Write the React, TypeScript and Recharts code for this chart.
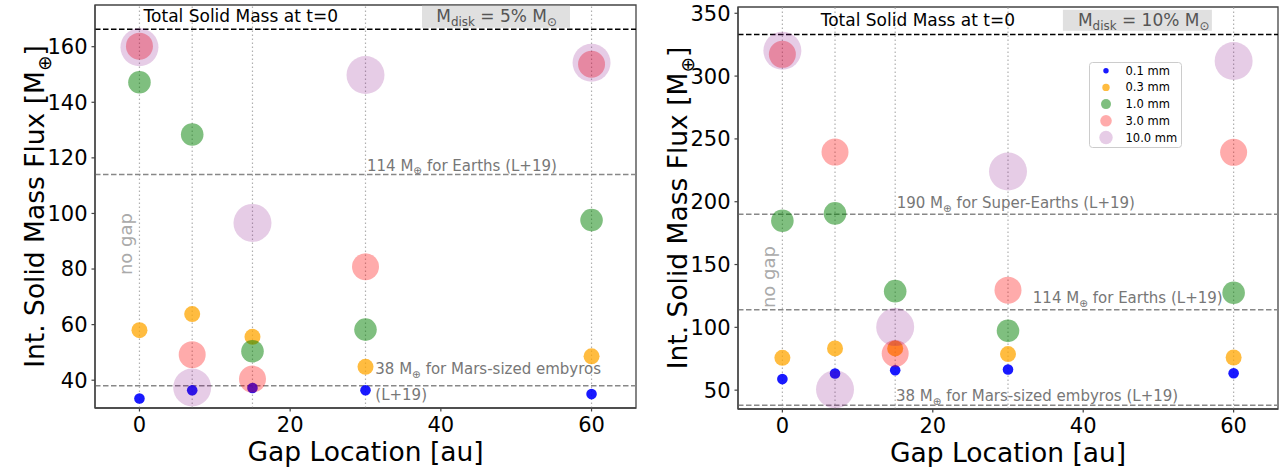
import React from "react";
import { ScatterChart, Scatter, XAxis, YAxis, ReferenceLine, ReferenceArea, Legend, Label } from "recharts";

const FONT = "DejaVu Sans, Verdana, sans-serif";

// gap locations (au) on the x axis
const gapLocations = [0, 7, 15, 30, 60];
const xTicks = [0, 20, 40, 60];
const sizeLabels = ["0.1 mm", "0.3 mm", "1.0 mm", "3.0 mm", "10.0 mm"];

// M_disk = 5% M_sun, integrated flux per grain size
const flux5_01 = [33.4, 36.4, 37.2, 36.4, 35.0];
const flux5_03 = [58.0, 63.8, 55.6, 44.8, 48.6];
const flux5_10 = [147.2, 128.4, 50.4, 58.2, 97.6];
const flux5_30 = [160.2, 49.2, 40.4, 80.8, 153.7];
const flux5_100 = [159.8, 37.4, 96.6, 149.8, 154.2];
const yTicks5 = [40, 60, 80, 100, 120, 140, 160];

// M_disk = 10% M_sun
const flux10_01 = [58.8, 63.3, 65.9, 66.5, 63.4];
const flux10_03 = [75.7, 83.2, 83.2, 78.7, 76.0];
const flux10_10 = [184.8, 190.7, 128.8, 97.2, 127.5];
const flux10_30 = [317.3, 239.5, 79.2, 129.6, 239.3];
const flux10_100 = [320.2, 50.6, 100.2, 224.1, 312.0];
const yTicks10 = [50, 100, 150, 200, 250, 300, 350];

// reference masses
const totalMass5 = 166.3;
const totalMass10 = 333.2;
const superEarths = 190;
const earths = 114;
const marsEmbryos = 38;

const XMIN = -5.9;
const XMAX = 65.9;
const LABEL_SIZE = 26.5;

// blue, orange, green, red, purple like matplotlib named colours
const STYLES = [
  { color: "#0000ff", opacity: 0.9, r: 5.3, lr: 2.7 },
  { color: "#ffa500", opacity: 0.75, r: 8, lr: 3.7 },
  { color: "#008000", opacity: 0.5, r: 11.3, lr: 5 },
  { color: "#ff0000", opacity: 0.33, r: 13.5, lr: 5.8 },
  { color: "#800080", opacity: 0.2, r: 19, lr: 6.7 },
];

type Seg = { t: string; sub?: boolean };

const renderSegs = (list: Seg[], size: number) => {
  let down = false;
  const shift = size * 0.25;
  return list.map((s, i) => {
    let dy: number | undefined;
    if (s.sub && !down) {
      dy = shift;
      down = true;
    } else if (!s.sub && down) {
      dy = -shift;
      down = false;
    }
    return (
      <tspan key={i} dy={dy} fontSize={s.sub ? size * 0.7 : size}>
        {s.t}
      </tspan>
    );
  });
};

interface Note {
  x: number;
  dy: number;
  size: number;
  color: string;
  segs: Seg[];
}
interface Box {
  x: number;
  dy: number;
  w: number;
  h: number;
  textX: number;
  textDy: number;
  segs: Seg[];
}
interface HLine {
  y: number;
  color: string;
  notes: Note[];
  box?: Box;
}

const xpx = (vb: any, d: number) => vb.x + ((d - XMIN) / (XMAX - XMIN)) * vb.width;

const hLabel = (line: HLine) => (props: any) => {
  const vb = props.viewBox;
  if (!vb) return null;
  return (
    <g>
      {line.box && (
        <rect x={xpx(vb, line.box.x)} y={vb.y + line.box.dy} width={line.box.w} height={line.box.h} fill="#e0e0e0" />
      )}
      {line.box && (
        <text x={xpx(vb, line.box.textX)} y={vb.y + line.box.textDy} fill="#555" fontFamily={FONT}>
          {renderSegs(line.box.segs, 17)}
        </text>
      )}
      {line.notes.map((n, i) => (
        <text key={i} x={xpx(vb, n.x)} y={vb.y + n.dy} fill={n.color} fontFamily={FONT}>
          {renderSegs(n.segs, n.size)}
        </text>
      ))}
    </g>
  );
};

const earthSub: Seg = { t: "\u2295", sub: true };

const lines5: HLine[] = [
  {
    y: totalMass5,
    color: "#000",
    notes: [{ x: 0.55, dy: -7, size: 17, color: "#000", segs: [{ t: "Total Solid Mass at t=0" }] }],
    box: {
      x: 37.5, dy: -23.4, w: 148, h: 22, textX: 39.4, textDy: -7,
      segs: [{ t: "M" }, { t: "disk", sub: true }, { t: " = 5% M" }, { t: "\u2299", sub: true }],
    },
  },
  {
    y: earths,
    color: "#888",
    notes: [{ x: 30.2, dy: -4, size: 15, color: "#777", segs: [{ t: "114 M" }, earthSub, { t: " for Earths (L+19)" }] }],
  },
  {
    y: marsEmbryos,
    color: "#888",
    notes: [
      { x: 31.3, dy: -11.6, size: 15, color: "#777", segs: [{ t: "38 M" }, earthSub, { t: " for Mars-sized embyros" }] },
      { x: 31.3, dy: 14.5, size: 15, color: "#777", segs: [{ t: "(L+19)" }] },
    ],
  },
];

const lines10: HLine[] = [
  {
    y: totalMass10,
    color: "#000",
    notes: [{ x: 5.1, dy: -8.6, size: 17, color: "#000", segs: [{ t: "Total Solid Mass at t=0" }] }],
    box: {
      x: 37.3, dy: -24.6, w: 149, h: 21, textX: 39.3, textDy: -8.6,
      segs: [{ t: "M" }, { t: "disk", sub: true }, { t: " = 10% M" }, { t: "\u2299", sub: true }],
    },
  },
  {
    y: superEarths,
    color: "#888",
    notes: [{ x: 15.2, dy: -6, size: 15, color: "#777", segs: [{ t: "190 M" }, earthSub, { t: " for Super-Earths (L+19)" }] }],
  },
  {
    y: earths,
    color: "#888",
    notes: [{ x: 33.3, dy: -6.6, size: 15, color: "#777", segs: [{ t: "114 M" }, earthSub, { t: " for Earths (L+19)" }] }],
  },
  {
    y: marsEmbryos,
    color: "#888",
    notes: [{ x: 15.1, dy: -4.3, size: 15, color: "#777", segs: [{ t: "38 M" }, earthSub, { t: " for Mars-sized embyros (L+19)" }] }],
  },
];

const LegendBox = () => (
  <svg width={93} height={86} style={{ display: "block" }}>
    <rect x={0.5} y={0.5} width={92} height={85} rx={3} fill="#fff" fillOpacity={0.8} stroke="#ccc" />
    {sizeLabels.map((lab, i) => {
      const cy = 8.7 + i * 16.7;
      return (
        <g key={lab}>
          <circle cx={17} cy={cy} r={STYLES[i].lr} fill={STYLES[i].color} fillOpacity={STYLES[i].opacity} />
          <text x={36.5} y={cy} dominantBaseline="central" fontSize={11.5} fontFamily={FONT} fill="#000">
            {lab}
          </text>
        </g>
      );
    })}
  </svg>
);

interface PanelProps {
  left: number;
  width: number;
  margin: { top: number; right: number; bottom: number; left: number };
  yAxisWidth: number;
  xAxisHeight: number;
  yDomain: [number, number];
  yTicks: number[];
  series: number[][];
  hlines: HLine[];
  noGapY: number;
  yLabelX: number;
  xLabelY: number;
  legend?: { left: number; top: number };
}

const Panel: React.FC<PanelProps> = (p) => {
  const data = p.series.map((vals) => gapLocations.map((g, i) => ({ x: g, y: vals[i] })));
  const axisColor = "#444";
  return (
    <div style={{ position: "absolute", left: p.left, top: 0 }}>
      <ScatterChart width={p.width} height={467} margin={p.margin}>
        <XAxis
          type="number"
          dataKey="x"
          domain={[XMIN, XMAX]}
          ticks={xTicks}
          allowDataOverflow
          height={p.xAxisHeight}
          stroke={axisColor}
          axisLine={{ stroke: axisColor, strokeWidth: 1.3 }}
          tickLine={{ stroke: axisColor, strokeWidth: 1.2 }}
          tickSize={3.5}
          tickMargin={6}
          tick={{ fontSize: 21, fill: "#000", fontFamily: FONT }}
        >
          <Label
            content={(lp: any) => {
              const vb = lp.viewBox;
              return (
                <text x={vb.x + vb.width / 2} y={p.xLabelY} textAnchor="middle" fontSize={LABEL_SIZE} fontFamily={FONT} fill="#000">
                  Gap Location [au]
                </text>
              );
            }}
          />
        </XAxis>
        <YAxis
          type="number"
          dataKey="y"
          domain={p.yDomain}
          ticks={p.yTicks}
          allowDataOverflow
          width={p.yAxisWidth}
          stroke={axisColor}
          axisLine={{ stroke: axisColor, strokeWidth: 1.3 }}
          tickLine={{ stroke: axisColor, strokeWidth: 1.2 }}
          tickSize={3.5}
          tickMargin={4}
          tick={{ fontSize: 21, fill: "#000", fontFamily: FONT }}
        >
          <Label
            content={(lp: any) => {
              const vb = lp.viewBox;
              const cy = vb.y + vb.height / 2;
              return (
                <text
                  transform={`translate(${p.yLabelX},${cy}) rotate(-90)`}
                  textAnchor="middle"
                  fontFamily={FONT}
                  fill="#000"
                >
                  {renderSegs([{ t: "Int. Solid Mass Flux [M" }, earthSub, { t: "]" }], LABEL_SIZE)}
                </text>
              );
            }}
          />
        </YAxis>
        <ReferenceArea
          x1={XMIN}
          x2={XMAX}
          y1={p.yDomain[0]}
          y2={p.yDomain[1]}
          fill="none"
          fillOpacity={0}
          stroke={axisColor}
          strokeWidth={1.3}
        />
        {gapLocations.map((g) => (
          <ReferenceLine
            key={"v" + g}
            x={g}
            stroke="#b0b0b0"
            strokeWidth={1.2}
            strokeDasharray="1.5 2.5"
            label={
              g === 0
                ? (lp: any) => {
                    const vb = lp.viewBox;
                    if (!vb) return null;
                    const cy = vb.y + ((p.yDomain[1] - p.noGapY) / (p.yDomain[1] - p.yDomain[0])) * vb.height;
                    const cx = vb.x - 14;
                    return (
                      <text
                        transform={`translate(${cx},${cy}) rotate(-90)`}
                        textAnchor="middle"
                        dominantBaseline="central"
                        fontSize={18}
                        fontFamily={FONT}
                        fill="#aaa"
                      >
                        no gap
                      </text>
                    );
                  }
                : undefined
            }
          />
        ))}
        {p.hlines.map((l) => (
          <ReferenceLine
            key={"h" + l.y}
            y={l.y}
            stroke={l.color}
            strokeWidth={1.5}
            strokeDasharray="5.5 2.5"
            label={hLabel(l)}
          />
        ))}
        {data.map((d, i) => (
          <Scatter
            key={sizeLabels[i]}
            name={sizeLabels[i]}
            data={d}
            isAnimationActive={false}
            shape={(sp: any) => (
              <circle cx={sp.cx} cy={sp.cy} r={STYLES[i].r} fill={STYLES[i].color} fillOpacity={STYLES[i].opacity} />
            )}
          />
        ))}
        {p.legend && (
          <Legend
            layout="vertical"
            align="center"
            verticalAlign="middle"
            wrapperStyle={{ left: p.legend.left, top: p.legend.top, width: 93, height: 86 }}
            content={() => <LegendBox />}
          />
        )}
      </ScatterChart>
    </div>
  );
};

const App: React.FC = () => {
  return (
    <div style={{ position: "absolute", left: 0, top: 0, width: 1281, height: 467, background: "#fff" }}>
      <Panel
        left={0}
        width={640}
        margin={{ top: 5, right: 4, bottom: 0, left: 0 }}
        yAxisWidth={95}
        xAxisHeight={59}
        yDomain={[30, 175]}
        yTicks={yTicks5}
        series={[flux5_01, flux5_03, flux5_10, flux5_30, flux5_100]}
        hlines={lines5}
        noGapY={89}
        yLabelX={44}
        xLabelY={461}
      />
      <Panel
        left={640}
        width={641}
        margin={{ top: 7, right: 3, bottom: 0, left: 0 }}
        yAxisWidth={98}
        xAxisHeight={58}
        yDomain={[35, 355]}
        yTicks={yTicks10}
        series={[flux10_01, flux10_03, flux10_10, flux10_30, flux10_100]}
        hlines={lines10}
        noGapY={140}
        yLabelX={47}
        xLabelY={462}
        legend={{ left: 449, top: 62 }}
      />
    </div>
  );
};

export default App;
